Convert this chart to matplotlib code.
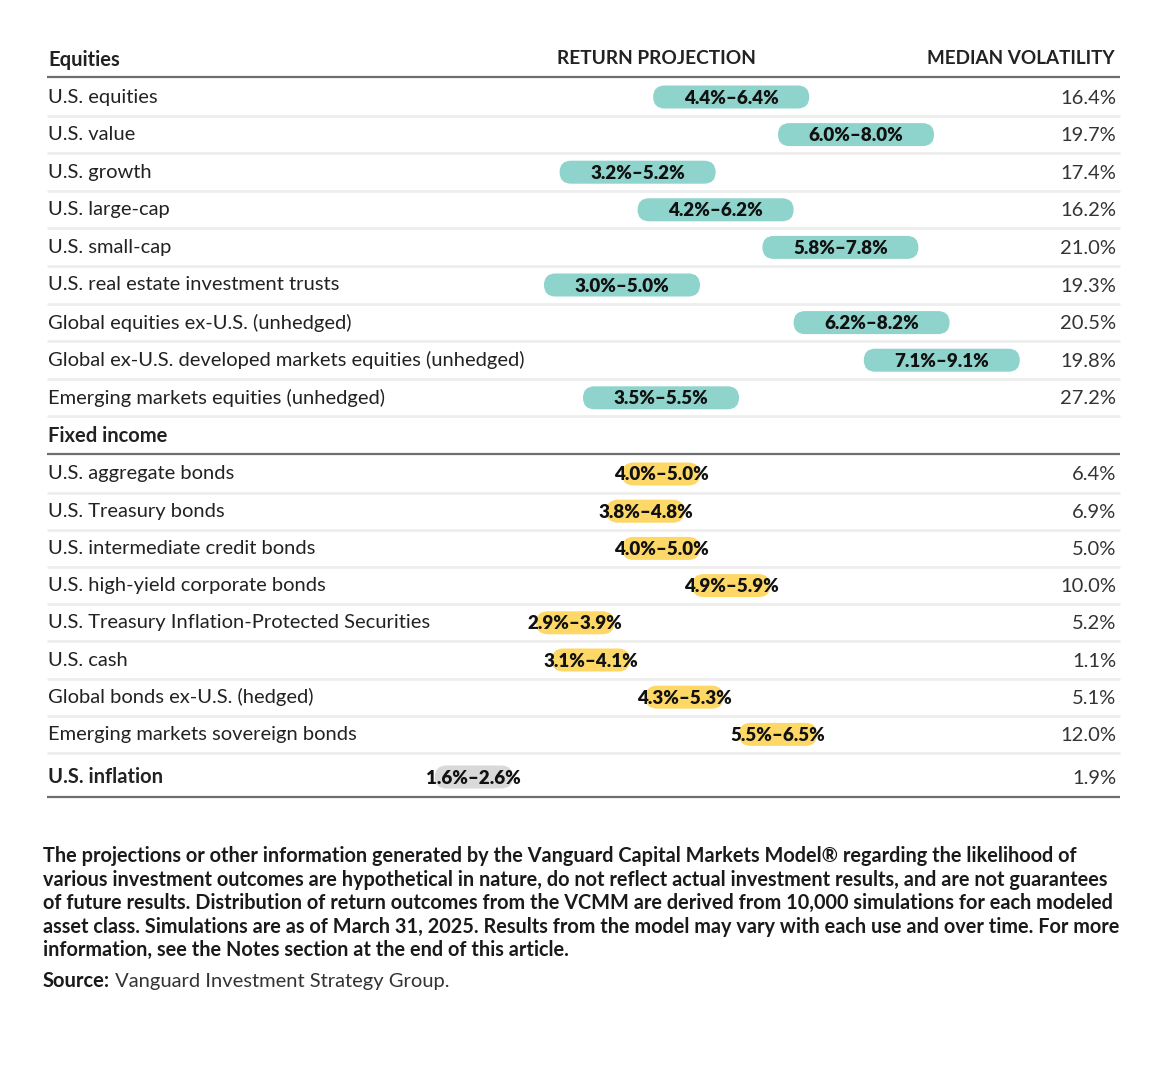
import matplotlib
matplotlib.use("Agg")
import matplotlib.pyplot as plt
from matplotlib.patches import FancyBboxPatch
from matplotlib.transforms import blended_transform_factory

plt.rcParams['font.family'] = ['Lato', 'DejaVu Sans']

# ---- data ----
equity_names = ["U.S. equities", "U.S. value", "U.S. growth", "U.S. large-cap", "U.S. small-cap",
                "U.S. real estate investment trusts", "Global equities ex-U.S. (unhedged)",
                "Global ex-U.S. developed markets equities (unhedged)",
                "Emerging markets equities (unhedged)"]
equity_lo = [4.4, 6.0, 3.2, 4.2, 5.8, 3.0, 6.2, 7.1, 3.5]
equity_hi = [6.4, 8.0, 5.2, 6.2, 7.8, 5.0, 8.2, 9.1, 5.5]
equity_vol = ["16.4%", "19.7%", "17.4%", "16.2%", "21.0%", "19.3%", "20.5%", "19.8%", "27.2%"]

fi_names = ["U.S. aggregate bonds", "U.S. Treasury bonds", "U.S. intermediate credit bonds",
            "U.S. high-yield corporate bonds", "U.S. Treasury Inflation-Protected Securities",
            "U.S. cash", "Global bonds ex-U.S. (hedged)", "Emerging markets sovereign bonds"]
fi_lo = [4.0, 3.8, 4.0, 4.9, 2.9, 3.1, 4.3, 5.5]
fi_hi = [5.0, 4.8, 5.0, 5.9, 3.9, 4.1, 5.3, 6.5]
fi_vol = ["6.4%", "6.9%", "5.0%", "10.0%", "5.2%", "1.1%", "5.1%", "12.0%"]

infl_name = "U.S. inflation"
infl_lo = [1.6]
infl_hi = [2.6]
infl_vol = ["1.9%"]

TEAL = "#8ed3cc"
YELLOW = "#fdd867"
GREY = "#d9d9d9"
LINE = "#6e6e6e"
SEP = "#eeeeee"
TXT = "#222222"
FS = 14.5

W, H = 1170, 1090
fig = plt.figure(figsize=(W / 100, H / 100), dpi=100)
ax = fig.add_axes([0, 0, 1, 1])
# x axis in percent (about 78 px per point), y axis in layout pixels (top = 0)
PX_PER_PCT = 78
X0 = 310
ax.set_xlim(-X0 / PX_PER_PCT, (W - X0) / PX_PER_PCT)
ax.set_ylim(H, 0)
ax.axis("off")

tr = blended_transform_factory(fig.transFigure, ax.transData)
LEFT, RIGHT = 47 / W, 1120 / W
BAR_H = 23


def hline(y, color, lw):
    ax.plot([LEFT, RIGHT], [y, y], color=color, lw=lw, transform=tr, solid_capstyle="butt", zorder=1)


def bar(lo, hi, y, color):
    p = FancyBboxPatch((lo, y - BAR_H / 2), hi - lo, BAR_H,
                       boxstyle="round,pad=0,rounding_size=%f" % (BAR_H / 2 / PX_PER_PCT),
                       mutation_aspect=PX_PER_PCT, fc=color, ec="none", zorder=2)
    ax.add_patch(p)
    ax.text((lo + hi) / 2, y + 1, "%.1f%%–%.1f%%" % (lo, hi), ha="center", va="center",
            fontsize=13.5, fontweight="heavy", color="#111111", zorder=3)


def row(name, lo, hi, vol, y, color, bold=False):
    ax.text(48 / W, y, name, transform=tr, ha="left", va="center", fontsize=FS,
            color=TXT, fontweight="bold" if bold else "normal")
    ax.text(1116 / W, y + 1, vol, transform=tr, ha="right", va="center", fontsize=FS, color="#333333")
    bar(lo, hi, y, color)


# headers
ax.text(48 / W, 60, "Equities", transform=tr, ha="left", va="center", fontsize=FS, fontweight="bold", color=TXT)
ax.text(656 / W, 59, "RETURN PROJECTION", transform=tr, ha="center", va="center", fontsize=13.8,
        fontweight="bold", color=TXT)
ax.text(1115 / W, 59, "MEDIAN VOLATILITY", transform=tr, ha="right", va="center", fontsize=13.6,
        fontweight="bold", color=TXT)
hline(77, LINE, 1.6)

y = 97
for i in range(len(equity_names)):
    row(equity_names[i], equity_lo[i], equity_hi[i], equity_vol[i], y, TEAL)
    hline(y + 18.5, SEP, 2)
    y += 37.6

ax.text(48 / W, 436, "Fixed income", transform=tr, ha="left", va="center", fontsize=FS,
        fontweight="bold", color=TXT)
hline(454, LINE, 1.6)

y = 474
for i in range(len(fi_names)):
    row(fi_names[i], fi_lo[i], fi_hi[i], fi_vol[i], y, YELLOW)
    hline(y + 18.5, SEP, 2)
    y += 37.2

row(infl_name, infl_lo[0], infl_hi[0], infl_vol[0], 777, GREY, bold=True)
hline(797, LINE, 1.6)

note = ("The projections or other information generated by the Vanguard Capital Markets Model® regarding the likelihood of\n"
        "various investment outcomes are hypothetical in nature, do not reflect actual investment results, and are not guarantees\n"
        "of future results. Distribution of return outcomes from the VCMM are derived from 10,000 simulations for each modeled\n"
        "asset class. Simulations are as of March 31, 2025. Results from the model may vary with each use and over time. For more\n"
        "information, see the Notes section at the end of this article.")
ax.text(43 / W, 846, note, transform=tr, ha="left", va="top", fontsize=14.3, fontweight="bold",
        color="#1a1a1a", linespacing=1.22)

src = ax.text(43 / W, 981, "Source:", transform=tr, ha="left", va="center", fontsize=14.5,
              fontweight="bold", color="#1a1a1a")
ax.annotate(" Vanguard Investment Strategy Group.", xy=(1, 0.5), xycoords=src, ha="left", va="center",
            fontsize=14.5, color="#333333")

fig.savefig("out.png", dpi=100, facecolor="white")
